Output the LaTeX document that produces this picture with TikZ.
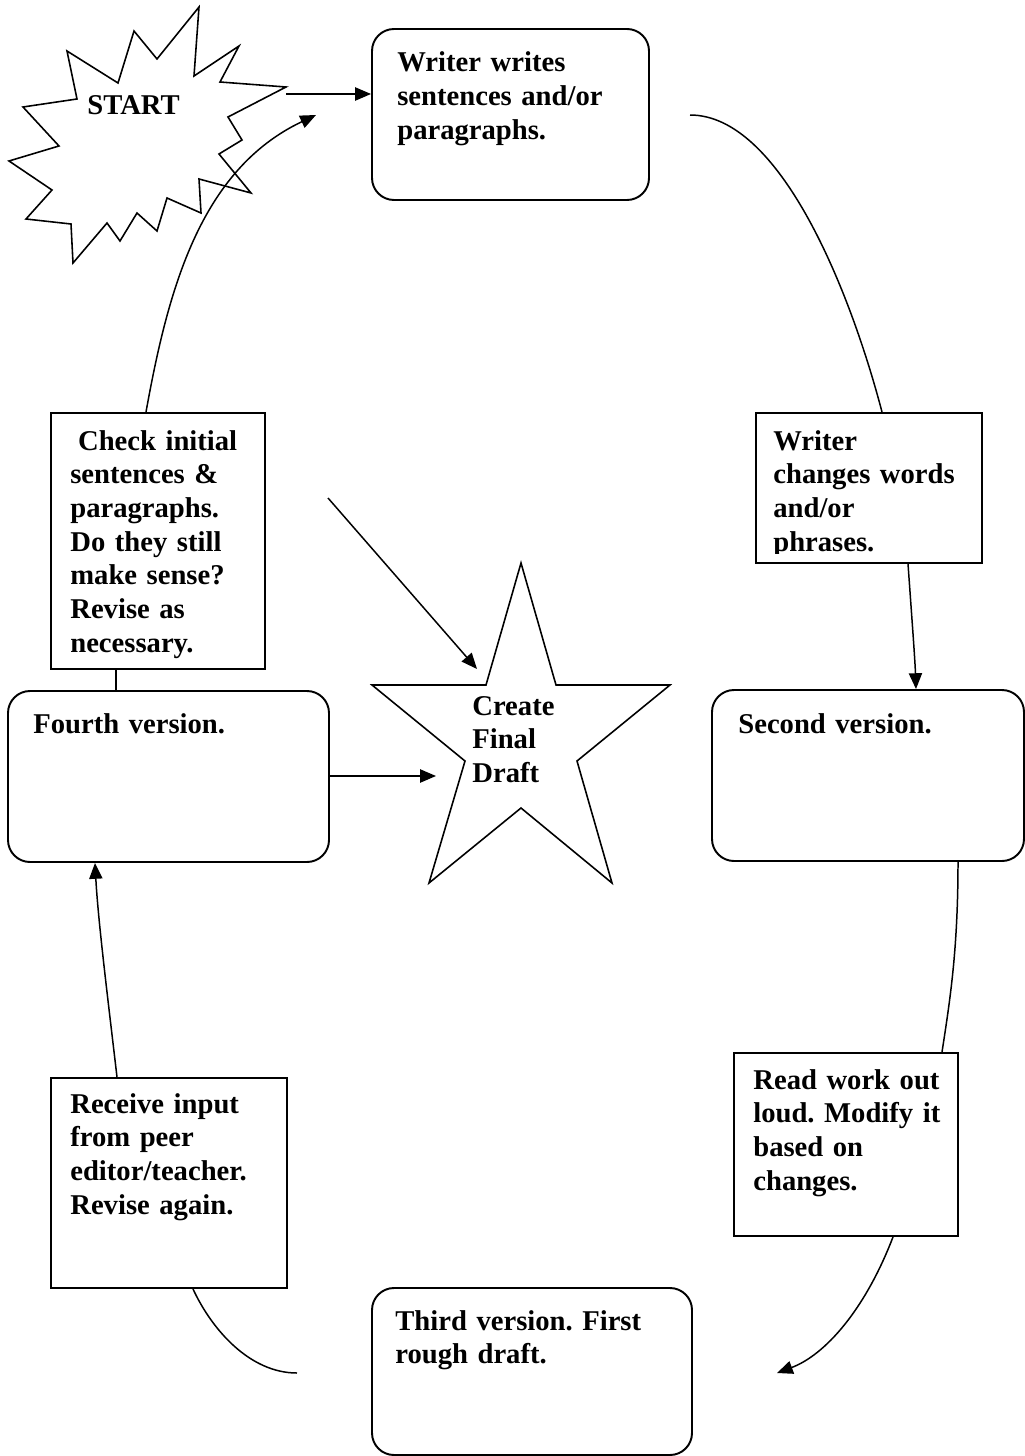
\documentclass[tikz,border=0pt]{standalone}
\usepackage{fontspec}
\setmainfont{Liberation Serif}
\usetikzlibrary{arrows.meta,fit}
\frenchspacing
\begin{document}
\begin{tikzpicture}[x=0.02cm,y=-0.02cm,
  boxline/.style={draw,line width=1.1pt,inner sep=0pt},
  roundbox/.style={boxline,rounded corners=0.44cm},
  sqbox/.style={boxline},
  shapeline/.style={draw,line width=0.9pt,fill=white,line join=miter},
  labeltext/.style={anchor=base west,inner sep=0pt,align=left,text width=8cm,
    font=\fontsize{16.3}{19.2}\selectfont\bfseries\frenchspacing},
  conn/.style={line width=0.85pt},
  arr/.style={conn,-{Triangle[length=9pt,width=7.5pt]}}]
\fill[white] (0,0) rectangle (1024,1456);
\useasboundingbox (0,0) rectangle (1024,1456);

% START burst
\path[shapeline] (199,7) -- (194,76) -- (239,46) -- (220,82) -- (286,87) -- (228,117)
  -- (242,140) -- (219,154) -- (251,193) -- (199,179) -- (201,213) -- (167,198)
  -- (157,231) -- (137,213) -- (120,241) -- (107,223) -- (73,263) -- (71,224)
  -- (26,219) -- (52,190) -- (9,161) -- (59,146) -- (23,107) -- (77,99) -- (67,51)
  -- (118,83) -- (134,31) -- (157,59) -- cycle;
\node[labeltext] (start) at (87,115) {START};

% Final draft star
\path[shapeline] (521,563) -- (556,685) -- (670,685) -- (577,761) -- (612,883)
  -- (521,808) -- (429,883) -- (465,761) -- (372,685) -- (486,685) -- cycle;
\node[labeltext] (final) at (472,715) {Create\\Final\\Draft};

% boxes
\node[roundbox, fit={(372,29) (649,200)}] (top) {};
\node[sqbox, fit={(51,413) (265,669)}] (check) {};
\node[sqbox, fit={(756,413) (982,563)}] (wc) {};
\node[roundbox, fit={(8,691) (329,862)}] (fourth) {};
\node[roundbox, fit={(712,690) (1024,861)}] (second) {};
\node[sqbox, fit={(734,1053) (958,1236)}] (read) {};
\node[sqbox, fit={(51,1078) (287,1288)}] (receive) {};
\node[roundbox, fit={(372,1288) (692,1455)}] (third) {};

% texts
\node[labeltext] (toptext) at (397,72) {Writer writes\\sentences and/or\\paragraphs.};
\node[labeltext] (checktext) at (70,450) {\hspace*{4.4pt}Check initial\\sentences \&\\paragraphs.\\Do they still\\make sense?\\Revise as\\necessary.};
\begin{scope}
  \clip (740,420) rectangle (1000,553);
  \node[labeltext] (wctext) at (773,450) {Writer\\changes words\\and/or\\phrases.};
\end{scope}
\node[labeltext] (fourthtext) at (33,733) {Fourth version.};
\node[labeltext] (secondtext) at (738,733) {Second version.};
\node[labeltext] (readtext) at (753,1089) {Read work out\\loud. Modify it\\based on\\changes.};
\node[labeltext] (receivetext) at (70,1113) {Receive input\\from peer\\editor/teacher.\\Revise again.};
\node[labeltext] (thirdtext) at (395,1330) {Third version. First\\rough draft.};

% free ends
\coordinate (startTip) at (286,94);
\coordinate (loopEnd) at (316,115);
\coordinate (arcStart) at (690,115);
\coordinate (thirdArrow) at (777,1373);
\coordinate (thirdLine) at (297,1373);
\coordinate (starL) at (436,776);
\coordinate (diagStart) at (328,498);
\coordinate (starTL) at (477,669);

% connectors
\draw[arr] (startTip) -- (top.west |- startTip);
\draw[arr] (check.north -| 146,0) .. controls (168,290) and (200,170) .. (loopEnd);
\draw[conn] (arcStart) .. controls (780,115) and (850,290) .. (wc.north -| 882,0);
\draw[arr] (wc.south -| 908,0) .. controls (912,620) and (915,660) .. (second.north -| 916,0);
\draw[conn] (second.south -| 958,0) .. controls (958,950) and (950,1000) .. (read.north -| 942,0);
\draw[arr] (read.south -| 893,0) .. controls (865,1310) and (825,1355) .. (thirdArrow);
\draw[conn] (thirdLine) .. controls (250,1373) and (212,1330) .. (receive.south -| 193,0);
\draw[arr] (receive.north -| 117,0) .. controls (108,1000) and (98,920) .. (fourth.south -| 95,0);
\draw[conn] (fourth.north -| 116,0) -- (check.south -| 116,0);
\draw[arr] (fourth.east |- starL) -- (starL);
\draw[arr] (diagStart) -- (starTL);
\end{tikzpicture}
\end{document}
